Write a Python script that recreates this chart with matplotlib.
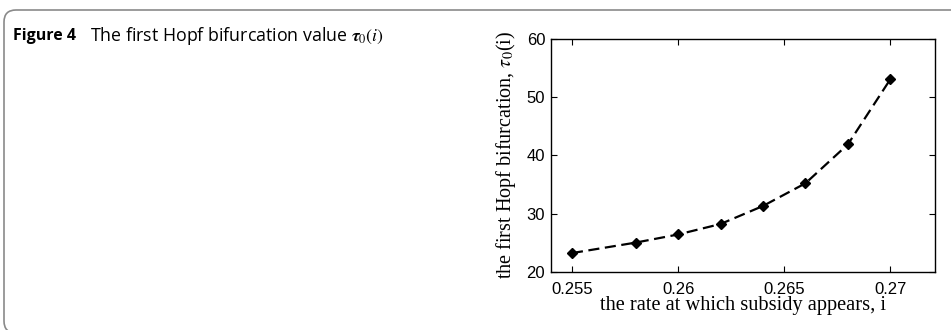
import matplotlib
matplotlib.use("Agg")
import matplotlib.pyplot as plt
from matplotlib.patches import FancyBboxPatch

plt.rcParams["mathtext.fontset"] = "stix"


############## Data ##############

rate = [0.255, 0.258, 0.260, 0.262, 0.264, 0.266, 0.268, 0.270]
tau0 = [23.2, 25.0, 26.4, 28.2, 31.3, 35.2, 41.9, 53.1]

xticks = [0.255, 0.26, 0.265, 0.27]
xticklabels = ["0.255", "0.26", "0.265", "0.27"]
yticks = [20, 30, 40, 50, 60]


############## Figure ##############

W, H = 951, 330
fig = plt.figure(figsize=(W / 100, H / 100), dpi=100)

# rounded frame around the panel, open to the right / bottom
frame = FancyBboxPatch((4, -3), 1000, H - 7,
                       boxstyle="round,pad=0,rounding_size=12",
                       transform=None, fill=False,
                       edgecolor="#8a8a8a", linewidth=1.2, zorder=0)
fig.patches.append(frame)

fig.text(13 / W, 1 - 36 / H, "Figure 4", fontsize=11.5, fontweight="bold",
         family="Open Sans", va="center", ha="left")
fig.text(90 / W, 1 - 36 / H, r"The first Hopf bifurcation value $\boldsymbol{\tau}_0(i)$",
         fontsize=12.8, family="Open Sans", va="center", ha="left")

ax = fig.add_axes([550.7 / W, 1 - 271.7 / H, (935 - 550.7) / W, (271.7 - 39) / H])
ax.plot(rate, tau0, "k--", linewidth=1.6, dashes=(5, 2.5),
        marker="D", markersize=5, markerfacecolor="k", markeredgecolor="k")

ax.set_xlim(0.254, 0.2721)
ax.set_ylim(20, 60)
ax.set_xticks(xticks)
ax.set_xticklabels(xticklabels)
ax.set_yticks(yticks)
ax.tick_params(direction="in", top=True, right=True, length=4, width=0.8,
               labelsize=12, pad=4)
ax.tick_params(axis="x", pad=7.5)
for lab in ax.get_xticklabels() + ax.get_yticklabels():
    lab.set_family("Liberation Sans")
for sp in ax.spines.values():
    sp.set_linewidth(1.0)

ax.set_xlabel("the rate at which subsidy appears, i", family="Liberation Serif",
              fontsize=14.7, labelpad=-1)
ax.set_ylabel(r"the first Hopf bifurcation, $\tau_0$(i)", family="Liberation Serif",
              fontsize=14.5, labelpad=6)

fig.savefig("out.png", dpi=100)
